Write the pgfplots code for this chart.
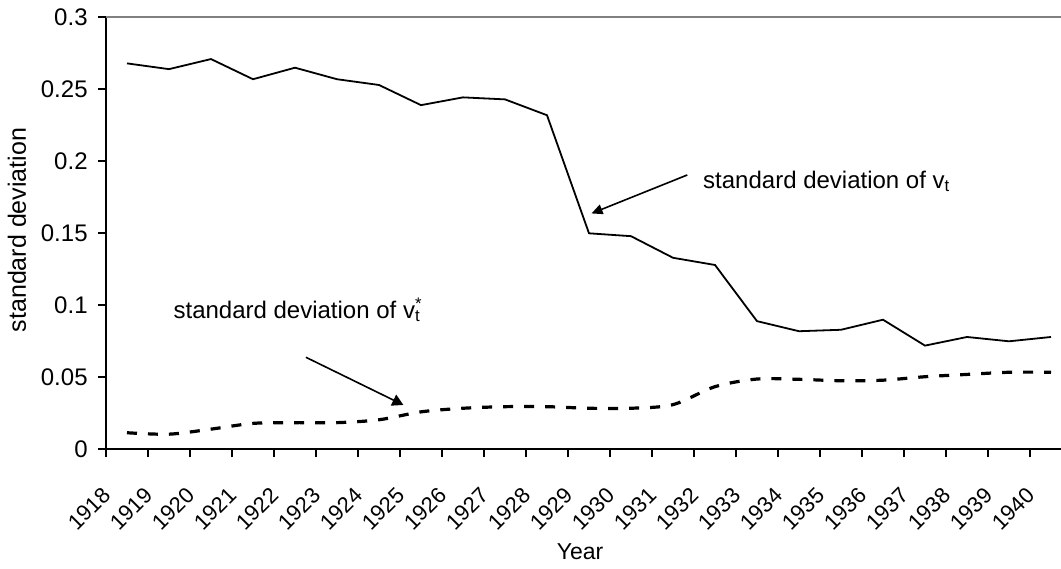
\documentclass[border=0pt]{standalone}
\usepackage{fontspec}
\setmainfont{Liberation Sans}
\usepackage{pgfplots}
\usepackage{pgfplotstable}
\pgfplotsset{compat=1.18}
\usetikzlibrary{arrows.meta}
\pgfplotstableread{
year sd
1918 0.268
1919 0.264
1920 0.271
1921 0.257
1922 0.265
1923 0.257
1924 0.253
1925 0.239
1926 0.2444
1927 0.243
1928 0.232
1929 0.150
1930 0.148
1931 0.133
1932 0.128
1933 0.089
1934 0.082
1935 0.083
1936 0.090
1937 0.072
1938 0.078
1939 0.075
1940 0.078
}\vt
\pgfplotstableread{
year sd
1918 0.0115
1919 0.0105
1920 0.0140
1921 0.0180
1922 0.0185
1923 0.0185
1924 0.0205
1925 0.0260
1926 0.0285
1927 0.0296
1928 0.0296
1929 0.0285
1930 0.0285
1931 0.0310
1932 0.0435
1933 0.0488
1934 0.0486
1935 0.0476
1936 0.0480
1937 0.0504
1938 0.0520
1939 0.0535
1940 0.0535
}\vstar
\begin{document}
\begin{tikzpicture}
\begin{axis}[
  at={(53bp,59.85bp)}, anchor=south west,
  scale only axis, width=483bp, height=216bp,
  xmin=1917.5, xmax=1940.5, ymin=0, ymax=0.3,
  axis lines*=left,
  axis line style={line width=1bp, black},
  clip=false,
  tick align=outside,
  major tick length=4bp, minor tick length=4bp,
  xtick={1918,1919,...,1940},
  xticklabels={1918,1919,1920,1921,1922,1923,1924,1925,1926,1927,1928,1929,1930,1931,1932,1933,1934,1935,1936,1937,1938,1939,1940},
  major x tick style={draw=none},
  minor xtick={1917.5,1918.5,...,1940.5},
  minor x tick style={black, line width=1bp},
  ytick={0,0.05,0.1,0.15,0.2,0.25,0.3},
  yticklabels={0,0.05,0.1,0.15,0.2,0.25,0.3},
  major y tick style={black, line width=1bp},
  yticklabel style={font=\fontsize{12bp}{14bp}\selectfont, inner sep=0pt, xshift=-5bp, anchor=east},
  xticklabel style={font=\fontsize{11bp}{13bp}\selectfont, inner sep=0pt, xshift=-13bp, yshift=-14bp, rotate=45, anchor=north east},
  xlabel={Year},
  xlabel style={at={(axis description cs:0.4907,-0.2377)}, anchor=center, font=\fontsize{11.5bp}{13bp}\selectfont},
  ylabel={standard deviation},
  ylabel style={at={(axis description cs:-0.0921,0.5076)}, anchor=center, font=\fontsize{12.5bp}{14bp}\selectfont},
]
\draw[line width=1bp, color={rgb,255:red,128;green,128;blue,128}] (rel axis cs:0,1) -- (rel axis cs:1,1);
\addplot[black, line width=0.9bp] table[x=year, y=sd] {\vt};
\addplot[black, line width=1.6bp, smooth, dash pattern=on 5bp off 5.5bp] table[x=year, y=sd] {\vstar};
\draw[line width=0.8bp, -{Triangle[length=5.5bp,width=5bp]}] (axis cs:1931.34,0.1905) -- (axis cs:1929.06,0.1638);
\draw[line width=0.8bp, -{Triangle[length=5.5bp,width=6bp]}] (axis cs:1922.26,0.0639) -- (axis cs:1924.58,0.0308);
\node[anchor=base west, inner sep=0pt, font=\fontsize{12bp}{14bp}\selectfont] at (axis cs:1931.71,0.1813) {standard deviation of v\textsubscript{t}};
\node[anchor=base west, inner sep=0pt, font=\fontsize{12bp}{14bp}\selectfont] at (axis cs:1919.10,0.0910) {standard deviation of v\rlap{\textsuperscript{*}}\textsubscript{t}};
\end{axis}
\pgfresetboundingbox
\path[use as bounding box] (0,0) rectangle (530.5bp,284.5bp);
\end{tikzpicture}
\end{document}
